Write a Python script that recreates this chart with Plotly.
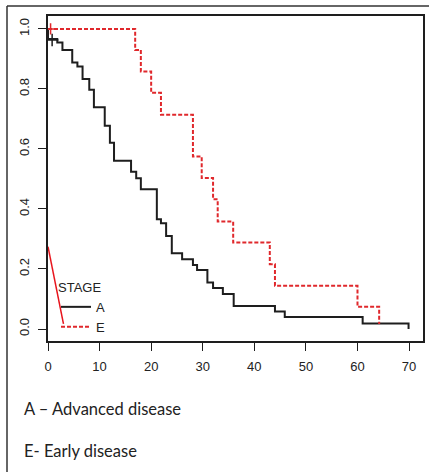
import plotly.graph_objects as go

# Kaplan-Meier step data (time, survival)
stage_a_time = [0, 0, 1.8, 2.8, 4.7, 5.7, 6.7, 8.0, 8.9, 11.0, 12.0, 12.8, 16.1, 17.1, 18.0,
                21.1, 21.9, 22.9, 24.0, 26.0, 28.1, 28.9, 30.9, 32.0, 33.9, 36.0, 44.0,
                45.9, 61.0, 69.9]
stage_a_surv = [1.0, 0.966, 0.955, 0.930, 0.888, 0.875, 0.833, 0.797, 0.739, 0.677, 0.621,
                0.561, 0.524, 0.502, 0.466, 0.366, 0.352, 0.310, 0.252, 0.232, 0.213, 0.197,
                0.155, 0.137, 0.117, 0.077, 0.058, 0.040, 0.018, 0.0]

stage_e_time = [0, 16.9, 18.0, 20.0, 21.9, 28.1, 29.8, 32.0, 32.9, 35.9, 43.0, 44.0, 60.0, 64.2]
stage_e_surv = [1.0, 0.930, 0.858, 0.787, 0.714, 0.575, 0.503, 0.432, 0.358, 0.288, 0.216,
                0.144, 0.074, 0.017]

# censor marks
censor_a_time = [0.8]
censor_a_surv = [0.963]
censor_e_time = [0.5]
censor_e_surv = [1.0]

# hand-drawn red pointer line
pointer_time = [0.0, 3.0]
pointer_surv = [0.274, 0.017]

x_ticks = [0, 10, 20, 30, 40, 50, 60, 70]
y_ticks = [0.0, 0.2, 0.4, 0.6, 0.8, 1.0]
y_tick_labels = ["0.0", "0.2", "0.4", "0.6", "0.8", "1.0"]

BLACK = "#1e1e1e"
RED = "#e0282c"
AXFONT = "Liberation Sans"

fig = go.Figure()
fig.add_trace(go.Scatter(x=stage_a_time, y=stage_a_surv, mode="lines", line_shape="hv",
                         line=dict(color=BLACK, width=2), name="A"))
fig.add_trace(go.Scatter(x=stage_e_time, y=stage_e_surv, mode="lines", line_shape="hv",
                         line=dict(color=RED, width=2, dash="4px,2px"), name="E"))
fig.add_trace(go.Scatter(x=censor_a_time, y=censor_a_surv, mode="markers", showlegend=False,
                         marker=dict(symbol="cross-thin", size=9, line=dict(color=BLACK, width=1.5))))
fig.add_trace(go.Scatter(x=censor_e_time, y=censor_e_surv, mode="markers", showlegend=False,
                         marker=dict(symbol="cross-thin", size=8, line=dict(color=RED, width=1.5))))
fig.add_trace(go.Scatter(x=pointer_time, y=pointer_surv, mode="lines", showlegend=False,
                         line=dict(color="#e8141c", width=1.5)))

L, R, T, B = 48, 6, 16, 131
W = 429 - L - R
H = 472 - T - B

def px(xp):
    return (xp - L) / W

def py(yp):
    return (472 - B - yp) / H

axis_common = dict(showline=True, linecolor=BLACK, linewidth=1.5, mirror=True,
                   ticks="outside", ticklen=8, tickwidth=1.2, tickcolor=BLACK,
                   showgrid=False, zeroline=False, automargin=False,
                   tickfont=dict(family=AXFONT, size=13, color="#222"))

fig.update_layout(
    width=429, height=472,
    margin=dict(l=L, r=R, t=T, b=B, autoexpand=False),
    paper_bgcolor="white", plot_bgcolor="white",
    xaxis=dict(range=[0, 72.7], tickvals=x_ticks, ticklabelstandoff=5, **axis_common),
    yaxis=dict(range=[-0.04, 1.043], tickvals=y_ticks, ticktext=y_tick_labels,
               tickangle=-90, ticklabelstandoff=4, **axis_common),
    legend=dict(x=px(56), y=py(275), xanchor="left", yanchor="top",
                bgcolor="rgba(0,0,0,0)",
                title=dict(text="STAGE", font=dict(family=AXFONT, size=13, color="#222")),
                font=dict(family=AXFONT, size=13, color="#222"),
                tracegroupgap=0, itemwidth=30),
    showlegend=True,
)

frame = dict(color="#333", width=1.5)
fig.add_shape(type="line", xref="paper", yref="paper", x0=px(7), x1=px(429), y0=py(6), y1=py(6), line=frame)
fig.add_shape(type="line", xref="paper", yref="paper", x0=px(7), x1=px(7), y0=py(6), y1=py(472), line=frame)

txt_font = dict(family="Lato", size=16.5, color="#222")
fig.add_annotation(xref="paper", yref="paper", x=px(22), y=py(409), xanchor="left", yanchor="middle",
                   text="A – Advanced disease", showarrow=False, font=txt_font)
fig.add_annotation(xref="paper", yref="paper", x=px(22), y=py(451), xanchor="left", yanchor="middle",
                   text="E- Early disease", showarrow=False, font=txt_font)

fig.write_html("out.html", config={"displayModeBar": False},
               post_script="document.body.style.margin='0';document.body.style.overflow='hidden';")
